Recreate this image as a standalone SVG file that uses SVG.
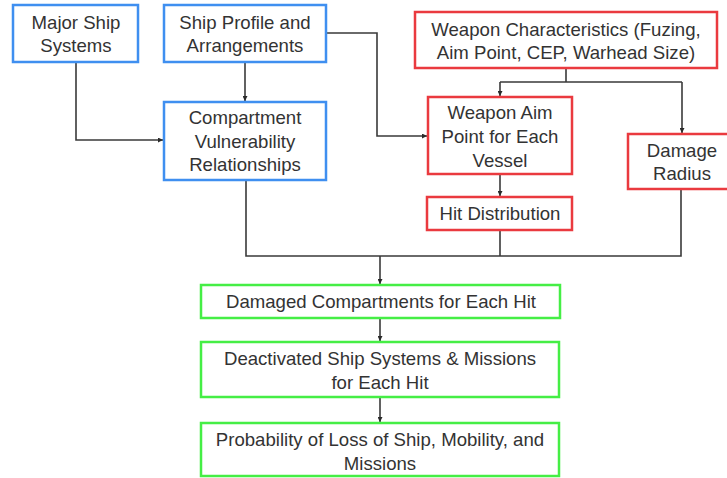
<svg xmlns="http://www.w3.org/2000/svg" width="727" height="478" viewBox="0 0 727 478">
  <style>
    .box { fill: #ffffff; stroke-width: 2.5; }
    .blue { stroke: #3f8ff0; }
    .red { stroke: #ea3a3f; }
    .green { stroke: #45ee45; }
    .label { font-family: "Liberation Sans", Arial, sans-serif; font-size: 18.6px; fill: #333333; text-anchor: middle; }
    .wire { fill: none; stroke: #3a3a3a; stroke-width: 1.6; }
  </style>
  <defs>
    <marker id="arrow" viewBox="0 0 10 10" refX="10" refY="5" markerWidth="5" markerHeight="5" orient="auto" markerUnits="userSpaceOnUse">
      <path d="M0,0 L10,5 L0,10 Z" fill="#2a2a2a"/>
    </marker>
  </defs>
  <rect width="727" height="478" fill="#ffffff"/>

  <g id="connectors">
    <path class="wire" d="M76,62 V140 H163" marker-end="url(#arrow)"/>
    <path class="wire" d="M245,62 V101" marker-end="url(#arrow)"/>
    <path class="wire" d="M326,33 H377 V136 H427" marker-end="url(#arrow)"/>
    <path class="wire" d="M566,68 V82 M500,82 H682"/>
    <path class="wire" d="M500,82 V96" marker-end="url(#arrow)"/>
    <path class="wire" d="M682,82 V133" marker-end="url(#arrow)"/>
    <path class="wire" d="M500,174 V196" marker-end="url(#arrow)"/>
    <path class="wire" d="M246,180 V256 H681 V189 M500,230 V256"/>
    <path class="wire" d="M380,256 V284" marker-end="url(#arrow)"/>
    <path class="wire" d="M380,318 V341" marker-end="url(#arrow)"/>
    <path class="wire" d="M380,397 V422" marker-end="url(#arrow)"/>
  </g>

  <g id="major-ship-systems">
    <rect class="box blue" x="13" y="5" width="125" height="57"/>
    <text class="label" x="76" y="29">Major Ship</text>
    <text class="label" x="76" y="52">Systems</text>
  </g>

  <g id="ship-profile">
    <rect class="box blue" x="164" y="5" width="162" height="57"/>
    <text class="label" x="245" y="29">Ship Profile and</text>
    <text class="label" x="245" y="52">Arrangements</text>
  </g>

  <g id="compartment-vulnerability">
    <rect class="box blue" x="164" y="102" width="162" height="78"/>
    <text class="label" x="245" y="124">Compartment</text>
    <text class="label" x="245" y="148">Vulnerability</text>
    <text class="label" x="245" y="171">Relationships</text>
  </g>

  <g id="weapon-characteristics">
    <rect class="box red" x="415" y="12" width="302" height="56"/>
    <text class="label" x="566" y="36">Weapon Characteristics (Fuzing,</text>
    <text class="label" x="566" y="59">Aim Point, CEP, Warhead Size)</text>
  </g>

  <g id="weapon-aim-point">
    <rect class="box red" x="428" y="97" width="144" height="77"/>
    <text class="label" x="500" y="119">Weapon Aim</text>
    <text class="label" x="500" y="143">Point for Each</text>
    <text class="label" x="500" y="167">Vessel</text>
  </g>

  <g id="damage-radius">
    <rect class="box red" x="628" y="134" width="108" height="55"/>
    <text class="label" x="682" y="157">Damage</text>
    <text class="label" x="682" y="180">Radius</text>
  </g>

  <g id="hit-distribution">
    <rect class="box red" x="427" y="197" width="145" height="33"/>
    <text class="label" x="500" y="220">Hit Distribution</text>
  </g>

  <g id="damaged-compartments">
    <rect class="box green" x="201" y="285" width="359" height="33"/>
    <text class="label" x="381" y="308">Damaged Compartments for Each Hit</text>
  </g>

  <g id="deactivated-systems">
    <rect class="box green" x="201" y="342" width="358" height="55"/>
    <text class="label" x="380" y="365">Deactivated Ship Systems &amp; Missions</text>
    <text class="label" x="380" y="389">for Each Hit</text>
  </g>

  <g id="probability-of-loss">
    <rect class="box green" x="201" y="423" width="358" height="53"/>
    <text class="label" x="380" y="446">Probability of Loss of Ship, Mobility, and</text>
    <text class="label" x="380" y="470">Missions</text>
  </g>
</svg>
